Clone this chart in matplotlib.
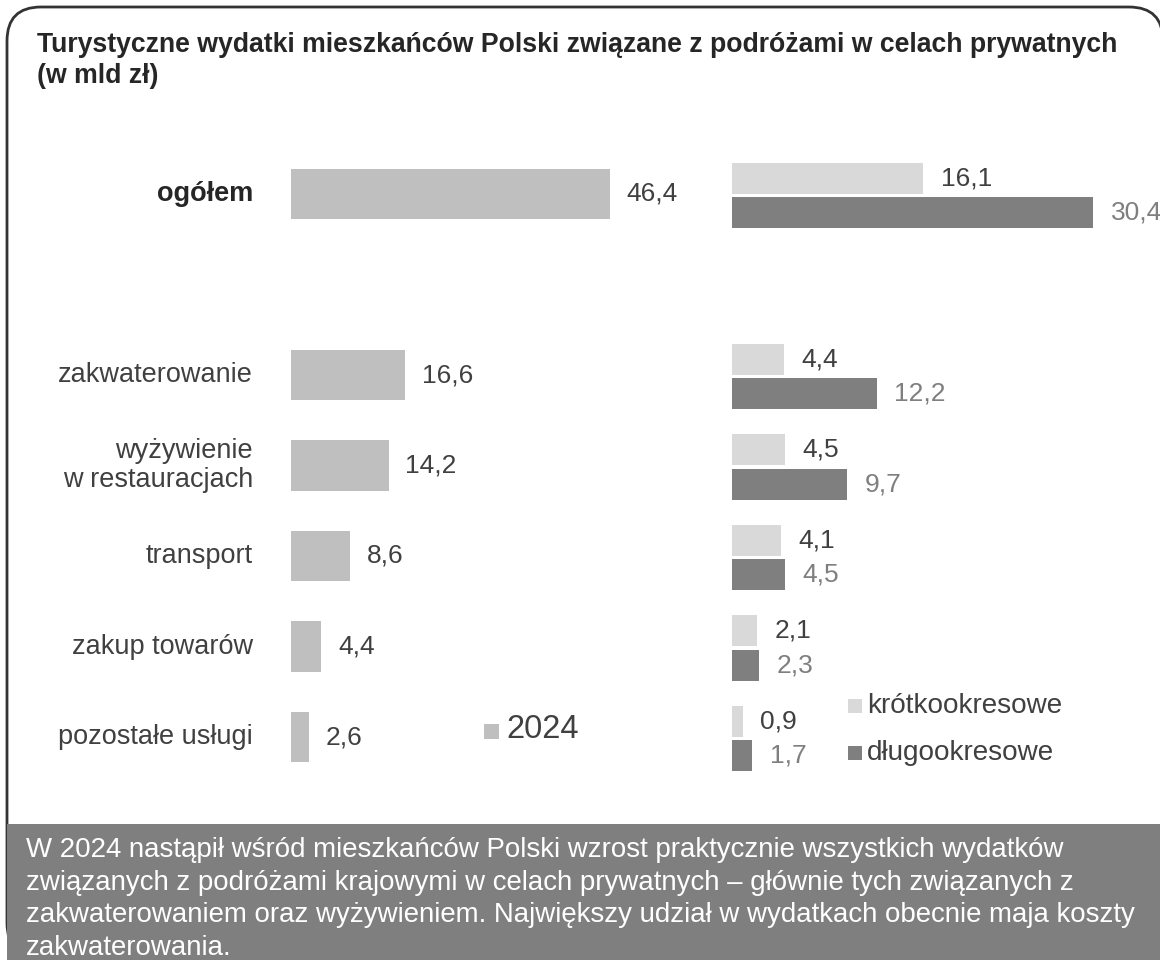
import matplotlib
matplotlib.use("Agg")
import matplotlib.pyplot as plt
from matplotlib.patches import FancyBboxPatch, Rectangle

plt.rcParams['font.family'] = ['Liberation Sans', 'DejaVu Sans']

# --- data -------------------------------------------------------------
categories = ["ogółem", "zakwaterowanie", "wyżywienie\nw restauracjach",
              "transport", "zakup towarów", "pozostałe usługi"]
slots = [0, 2, 3, 4, 5, 6]
total_2024 = [46.4, 16.6, 14.2, 8.6, 4.4, 2.6]
short_trips = [16.1, 4.4, 4.5, 4.1, 2.1, 0.9]
long_trips = [30.4, 12.2, 9.7, 4.5, 2.3, 1.7]

title = ("Turystyczne wydatki mieszkańców Polski związane z podróżami w celach prywatnych\n"
         "(w mld zł)")
note = ("W 2024 nastąpił wśród mieszkańców Polski wzrost praktycznie wszystkich wydatków\n"
        "związanych z podróżami krajowymi w celach prywatnych – głównie tych związanych z\n"
        "zakwaterowaniem oraz wyżywieniem. Największy udział w wydatkach obecnie maja koszty\n"
        "zakwaterowania.")

C_TOTAL = "#bfbfbf"
C_SHORT = "#d9d9d9"
C_LONG = "#7f7f7f"
C_TEXT = "#404040"

W, H = 1160, 960
fig = plt.figure(figsize=(W / 100, H / 100), dpi=100)

# overlay axes in pixel coordinates for frame, titles and legend
deco = fig.add_axes([0, 0, 1, 1], zorder=0)
deco.set_xlim(0, W)
deco.set_ylim(H, 0)
deco.axis("off")

deco.add_patch(FancyBboxPatch((7, 7), 1156, 950,
                              boxstyle="round,pad=0,rounding_size=34",
                              facecolor="white", edgecolor="#333333", linewidth=2.0))
deco.add_patch(Rectangle((7, 824), W - 7, H - 824, facecolor="#7f7f7f",
                         edgecolor="none"))

deco.text(37, 32, title, fontsize=19.2, fontweight="bold", color="#262626",
          va="top", ha="left", linespacing=1.25)
deco.text(26, 837, note, fontsize=19.9, color="white", va="top", ha="left",
          linespacing=1.33)

# legends
deco.add_patch(Rectangle((484, 724), 15, 15, facecolor=C_TOTAL, edgecolor="none"))
deco.text(506, 730, "2024", fontsize=23.5, color=C_TEXT, va="center", ha="left")
deco.add_patch(Rectangle((848, 699), 14, 14, facecolor=C_SHORT, edgecolor="none"))
deco.text(867, 706, "krótkookresowe", fontsize=20.1, color=C_TEXT, va="center", ha="left")
deco.add_patch(Rectangle((848, 746), 14, 14, facecolor=C_LONG, edgecolor="none"))
deco.text(867, 753, "długookresowe", fontsize=20.1, color=C_TEXT, va="center", ha="left")

# y scale shared by both bar panels: slot units, inverted
y_top, y_bot = -194 / 90.5, (H - 194) / 90.5

def fmt(v):
    return f"{v:.1f}".replace(".", ",")

# left panel: totals 2024
axl = fig.add_axes([0, 0, 1, 1], zorder=1)
axl.patch.set_alpha(0)
axl.set_xlim(-291 / 6.87, (W - 291) / 6.87)
axl.set_ylim(y_bot, y_top)
axl.axis("off")
bars = axl.barh(slots, total_2024, height=0.553, color=C_TOTAL)
for b, v in zip(bars, total_2024):
    axl.annotate(fmt(v), (b.get_width(), b.get_y() + b.get_height() / 2),
                 xytext=(12, 0), textcoords="offset points", va="center",
                 ha="left", fontsize=19, color=C_TEXT)
for s, cat in zip(slots, categories):
    axl.annotate(cat, (0, s), xytext=(-27.5, 0), textcoords="offset points",
                 va="center", ha="right", fontsize=19.5,
                 color="#262626" if s == 0 else C_TEXT,
                 fontweight="bold" if s == 0 else "normal", linespacing=1.15)

# right panel: short vs long trips
axr = fig.add_axes([0, 0, 1, 1], zorder=2)
axr.patch.set_alpha(0)
axr.set_xlim(-732 / 11.88, (W - 732) / 11.88)
axr.set_ylim(y_bot, y_top)
axr.axis("off")
off = 0.19
hb = 0.342
ys = [s - off + 0.015 for s in slots]
yl = [s + off + 0.015 for s in slots]
bs = axr.barh(ys, short_trips, height=hb, color=C_SHORT)
bl = axr.barh(yl, long_trips, height=hb, color=C_LONG)
for b, v in zip(bs, short_trips):
    axr.annotate(fmt(v), (b.get_width(), b.get_y() + b.get_height() / 2),
                 xytext=(12.5, 0), textcoords="offset points", va="center",
                 ha="left", fontsize=19, color=C_TEXT)
for b, v in zip(bl, long_trips):
    axr.annotate(fmt(v), (b.get_width(), b.get_y() + b.get_height() / 2),
                 xytext=(12.5, 0), textcoords="offset points", va="center",
                 ha="left", fontsize=19, color="#7f7f7f")

fig.savefig("out.png", dpi=100)
